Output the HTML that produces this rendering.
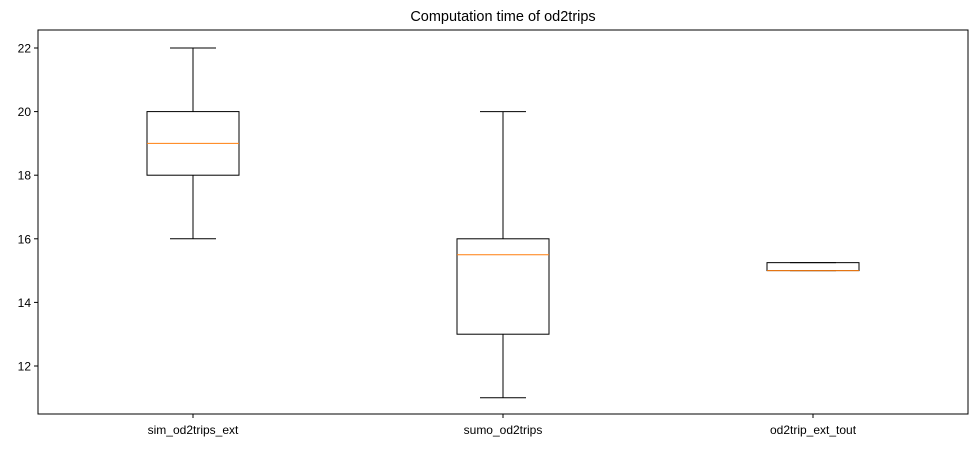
<!DOCTYPE html>
<html><head><meta charset="utf-8"><style>body{margin:0;background:#fff}svg{display:block;font-family:"Liberation Sans",sans-serif}</style></head>
<body>
<svg id="c" width="977" height="449"></svg>
<script>
const categories=["sim_od2trips_ext","sumo_od2trips","od2trip_ext_tout"];
const whiskerLow=[16,11,15];
const q1s=[18,13,15];
const medians=[19,15.5,15];
const q3s=[20,16,15.25];
const whiskerHigh=[22,20,15.25];
const yTicks=[12,14,16,18,20,22];
const svg=document.getElementById('c');const NS='http://www.w3.org/2000/svg';
const L=38,R=968,T=30,B=414;
const y=v=>366-(v-12)*31.8;
const x=i=>193+i*310;
function el(t,a,p){const e=document.createElementNS(NS,t);for(const k in a)e.setAttribute(k,a[k]);(p||svg).appendChild(e);return e;}
const title=el('text',{x:503,y:21,'text-anchor':'middle','font-size':14.5});title.textContent='Computation time of od2trips';


yTicks.forEach(v=>{const g=el('g',{});


el('line',{x1:L-4,x2:L,y1:y(v),y2:y(v),stroke:'#000'},g);
const t=el('text',{x:L-7,y:y(v)+4.5,'text-anchor':'end','font-size':12},g);t.textContent=v;});
categories.forEach((c,i)=>{const cx=x(i),hw=46,cw=23;const g=el('g',{});


el('line',{x1:cx,x2:cx,y1:y(whiskerLow[i]),y2:y(q1s[i]),stroke:'#000'},g);
el('line',{x1:cx,x2:cx,y1:y(q3s[i]),y2:y(whiskerHigh[i]),stroke:'#000'},g);
el('line',{x1:cx-cw,x2:cx+cw,y1:y(whiskerLow[i]),y2:y(whiskerLow[i]),stroke:'#000'},g);
el('line',{x1:cx-cw,x2:cx+cw,y1:y(whiskerHigh[i]),y2:y(whiskerHigh[i]),stroke:'#000'},g);
el('rect',{x:cx-hw,y:y(q3s[i]),width:2*hw,height:y(q1s[i])-y(q3s[i]),fill:'none',stroke:'#000'},g);
el('line',{x1:cx-hw,x2:cx+hw,y1:y(medians[i]),y2:y(medians[i]),stroke:'#ff7f0e'},g);
el('line',{x1:cx,x2:cx,y1:B,y2:B+4,stroke:'#000'},g);
const t=el('text',{x:cx,y:B+20,'text-anchor':'middle','font-size':12},g);t.textContent=c;});
const f=el('rect',{x:L,y:T,width:R-L,height:B-T,fill:'none',stroke:'#000'});


</script>
</body></html>
